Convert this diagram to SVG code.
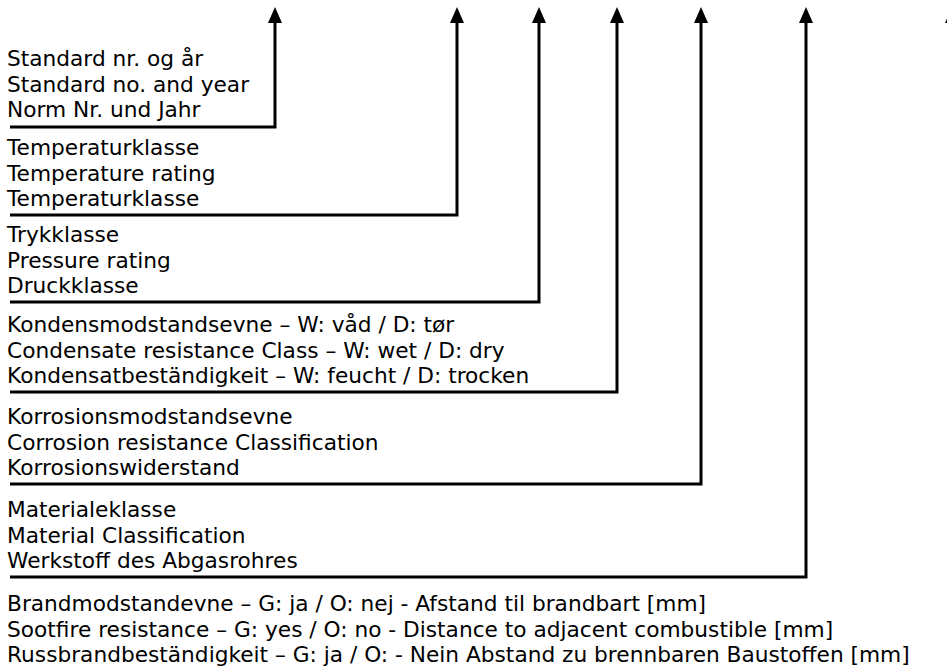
<svg xmlns="http://www.w3.org/2000/svg" width="947" height="668" viewBox="0 0 947 668">
<style>
  .t { font-family: "DejaVu Sans", Verdana, sans-serif; font-size: 21.7px; fill: #000; }
  .c { fill: none; stroke: #000; stroke-width: 3; }
</style>
<rect width="947" height="668" fill="#fff"/>
<g id="connectors">
  <path class="c" d="M10 127 H275 V23"/>
  <path class="c" d="M10 215 H457 V23"/>
  <path class="c" d="M10 302 H539 V23"/>
  <path class="c" d="M10 392 H617 V23"/>
  <path class="c" d="M10 484 H701 V23"/>
  <path class="c" d="M10 577 H806 V23"/>
  <path class="c" d="M952 660 V23"/>
  <path d="M268 23 L275 7 L282 23 Z"/>
  <path d="M450 23 L457 7 L464 23 Z"/>
  <path d="M532 23 L539 7 L546 23 Z"/>
  <path d="M610 23 L617 7 L624 23 Z"/>
  <path d="M694 23 L701 7 L708 23 Z"/>
  <path d="M799 23 L806 7 L813 23 Z"/>
  <path d="M945 23 L952 7 L959 23 Z"/>
</g>
<g id="n1">
  <text class="t" x="7" y="66">Standard nr. og år</text>
  <text class="t" x="7" y="91.5">Standard no. and year</text>
  <text class="t" x="7" y="117">Norm Nr. und Jahr</text>
</g>
<g id="n2">
  <text class="t" x="7" y="155">Temperaturklasse</text>
  <text class="t" x="7" y="180.5">Temperature rating</text>
  <text class="t" x="7" y="206">Temperaturklasse</text>
</g>
<g id="n3">
  <text class="t" x="7" y="242">Trykklasse</text>
  <text class="t" x="7" y="267.5">Pressure rating</text>
  <text class="t" x="7" y="293">Druckklasse</text>
</g>
<g id="n4">
  <text class="t" x="7" y="332">Kondensmodstandsevne – W: våd / D: tør</text>
  <text class="t" x="7" y="357.5">Condensate resistance Class – W: wet / D: dry</text>
  <text class="t" x="7" y="383">Kondensatbeständigkeit – W: feucht / D: trocken</text>
</g>
<g id="n5">
  <text class="t" x="7" y="424">Korrosionsmodstandsevne</text>
  <text class="t" x="7" y="449.5">Corrosion resistance Classification</text>
  <text class="t" x="7" y="475">Korrosionswiderstand</text>
</g>
<g id="n6">
  <text class="t" x="7" y="517">Materialeklasse</text>
  <text class="t" x="7" y="542.5">Material Classification</text>
  <text class="t" x="7" y="568">Werkstoff des Abgasrohres</text>
</g>
<g id="n7">
  <text class="t" x="7" y="611">Brandmodstandevne – G: ja / O: nej - Afstand til brandbart [mm]</text>
  <text class="t" x="7" y="636.5">Sootfire resistance – G: yes / O: no - Distance to adjacent combustible [mm]</text>
  <text class="t" x="7" y="662">Russbrandbeständigkeit – G: ja / O: - Nein Abstand zu brennbaren Baustoffen [mm]</text>
</g>
</svg>
